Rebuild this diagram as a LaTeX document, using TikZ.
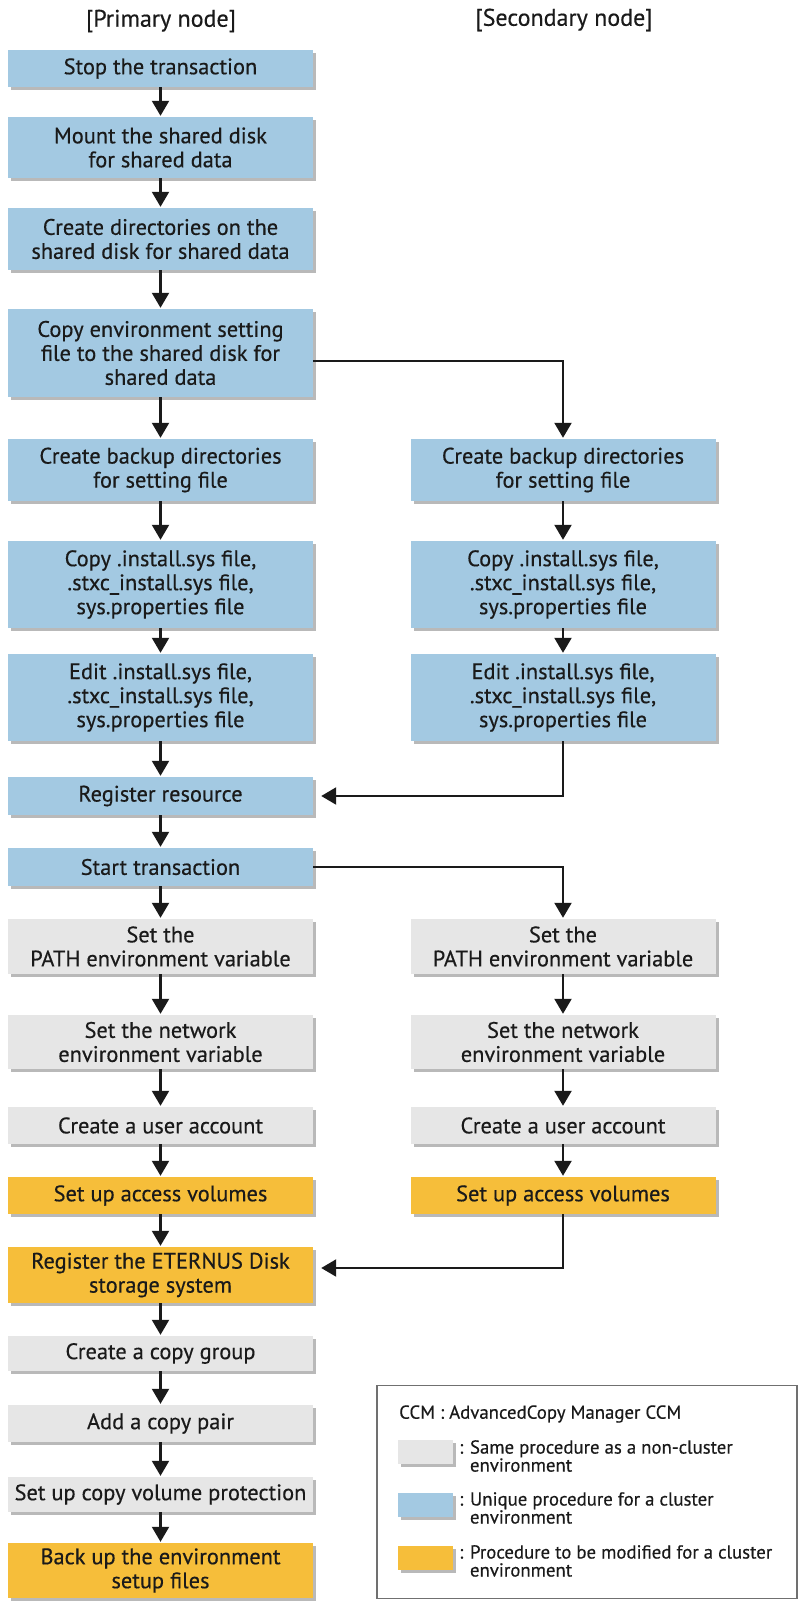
\documentclass[tikz,border=0pt]{standalone}
\usepackage{fontspec}
\setmainfont{PT Sans}[FakeBold=0.4]
\usetikzlibrary{arrows.meta,shadows}
\definecolor{cblue}{HTML}{A3C9E2}
\definecolor{cgray}{HTML}{E6E6E6}
\definecolor{corange}{HTML}{F6BE3A}
\definecolor{ctext}{HTML}{1A1A1A}
\definecolor{cframe}{HTML}{707070}
\begin{document}
\begin{tikzpicture}[x=1pt,y=-1pt,
  box/.style={draw=none, minimum width=305pt, inner sep=0pt, align=center,
    font=\fontsize{22.4}{24}\selectfont, text=ctext,
    drop shadow={shadow xshift=3pt, shadow yshift=-3pt, fill=black!50, opacity=0.55}},
  bluebox/.style={box, fill=cblue},
  graybox/.style={box, fill=cgray},
  orangebox/.style={box, fill=corange},
  swatch/.style={box, minimum width=55pt, minimum height=24pt},
  arr/.style={-{Triangle[length=15pt,width=17pt]}, line width=2.2pt, draw=ctext, shorten >=1pt},
  hdr/.style={font=\fontsize{24}{26}\selectfont, text=ctext},
  legtxt/.style={font=\fontsize{18.8}{18}\selectfont, text=ctext, align=left, inner sep=0pt}
]
\useasboundingbox (0,0) rectangle (800,1602);

% headers
\node[hdr] (h1) at (161,21) {[Primary node]};
\node[hdr] (h2) at (564,20) {[Secondary node]};

% primary column
\node[bluebox, minimum height=37pt] (p1) at (160.5,68.5) {Stop the transaction};
\node[bluebox, minimum height=61pt] (p2) at (160.5,147.5) {Mount the shared disk\\for shared data};
\node[bluebox, minimum height=62pt] (p3) at (160.5,239) {Create directories on the\\shared disk for shared data};
\node[bluebox, minimum height=88pt] (p4) at (160.5,353) {Copy environment setting\\file to the shared disk for\\shared data};
\node[bluebox, minimum height=62pt] (p5) at (160.5,470) {Create backup directories\\for setting file};
\node[bluebox, minimum height=87pt] (p6) at (160.5,584.5) {Copy .install.sys file,\\.stxc\_install.sys file,\\sys.properties file};
\node[bluebox, minimum height=87pt] (p7) at (160.5,697.5) {Edit .install.sys file,\\.stxc\_install.sys file,\\sys.properties file};
\node[bluebox, minimum height=38pt] (p8) at (160.5,796) {Register resource};
\node[bluebox, minimum height=38pt] (p9) at (160.5,867) {Start transaction};
\node[graybox, minimum height=55pt] (p10) at (160.5,946.5) {Set the\\PATH environment variable};
\node[graybox, minimum height=54pt] (p11) at (160.5,1042) {Set the network\\environment variable};
\node[graybox, minimum height=37pt] (p12) at (160.5,1125.5) {Create a user account};
\node[orangebox, minimum height=37pt] (p13) at (160.5,1195.5) {Set up access volumes};
\node[orangebox, minimum height=56pt] (p14) at (160.5,1275) {Register the ETERNUS Disk\\storage system};
\node[graybox, minimum height=35pt] (p15) at (160.5,1353.5) {Create a copy group};
\node[graybox, minimum height=37pt] (p16) at (160.5,1423.5) {Add a copy pair};
\node[graybox, minimum height=35pt] (p17) at (160.5,1494.5) {Set up copy volume protection};
\node[orangebox, minimum height=55pt] (p18) at (160.5,1570.5) {Back up the environment\\setup files};

% secondary column
\node[bluebox, minimum height=62pt] (s5) at (563,470) {Create backup directories\\for setting file};
\node[bluebox, minimum height=87pt] (s6) at (563,584.5) {Copy .install.sys file,\\.stxc\_install.sys file,\\sys.properties file};
\node[bluebox, minimum height=87pt] (s7) at (563,697.5) {Edit .install.sys file,\\.stxc\_install.sys file,\\sys.properties file};
\node[graybox, minimum height=55pt] (s10) at (563,946.5) {Set the\\PATH environment variable};
\node[graybox, minimum height=54pt] (s11) at (563,1042) {Set the network\\environment variable};
\node[graybox, minimum height=37pt] (s12) at (563,1125.5) {Create a user account};
\node[orangebox, minimum height=37pt] (s13) at (563,1195.5) {Set up access volumes};

% primary arrows
\foreach \a/\b in {p1/p2,p2/p3,p3/p4,p4/p5,p5/p6,p6/p7,p7/p8,p8/p9,p9/p10,p10/p11,p11/p12,p12/p13,p13/p14,p14/p15,p15/p16,p16/p17,p17/p18}
  \draw[arr] (\a) -- (\b);
% secondary arrows
\foreach \a/\b in {s5/s6,s6/s7,s10/s11,s11/s12,s12/s13}
  \draw[arr] (\a) -- (\b);

% cross connectors
\draw[arr] ([yshift=-8pt]p4.east) -| (s5.north);
\draw[arr, shorten >=8pt] (s7.south) |- (p8.east);
\draw[arr] (p9.east) -| (s10.north);
\draw[arr, shorten >=8pt] (s13.south) |- ([yshift=7pt]p14.east);

% legend
\node[draw=cframe, line width=1.3pt, minimum width=420pt, minimum height=213pt, inner sep=0pt] (leg) at (587,1492) {};
\node[legtxt, anchor=west] (lt) at (399,1414) {CCM : AdvancedCopy Manager CCM};
\node[swatch, fill=cgray] (sw1) at (425.5,1452) {};
\node[swatch, fill=cblue] (sw2) at (425.5,1504.5) {};
\node[swatch, fill=corange] (sw3) at (425.5,1557.5) {};
\node[legtxt, anchor=north west] (l1) at (459,1440) {: Same procedure as a non-cluster\\\phantom{: }environment};
\node[legtxt, anchor=north west] (l2) at (459,1492) {: Unique procedure for a cluster\\\phantom{: }environment};
\node[legtxt, anchor=north west] (l3) at (459,1545) {: Procedure to be modified for a cluster\\\phantom{: }environment};
\end{tikzpicture}
\end{document}
